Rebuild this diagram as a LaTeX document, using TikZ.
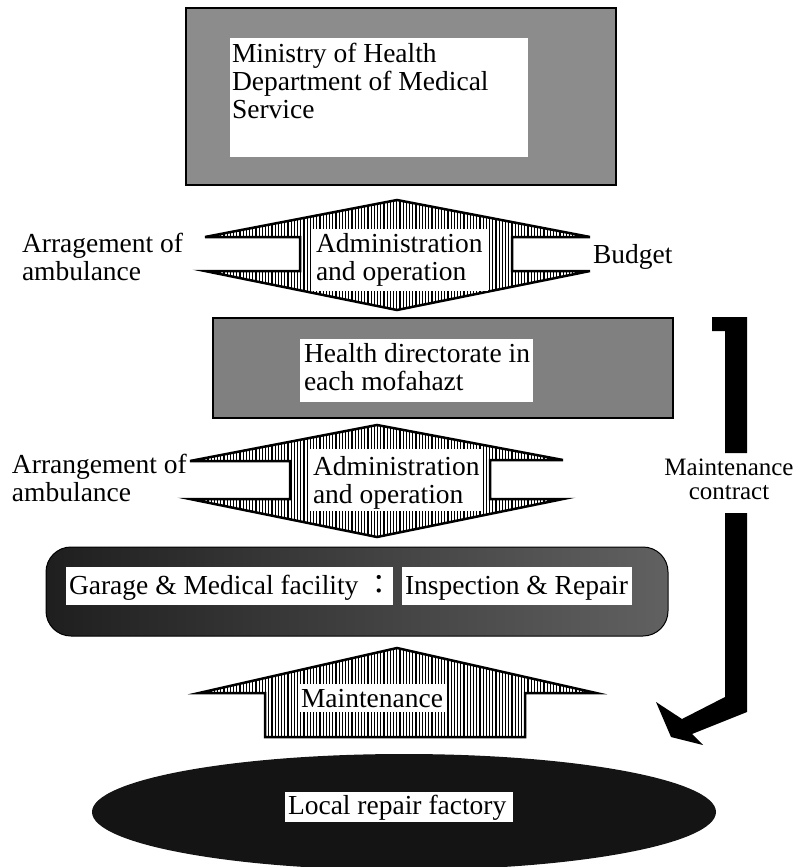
\documentclass[tikz,border=0pt]{standalone}
\usepackage{fontspec}
\setmainfont{Liberation Serif}
\newfontfamily\cjkfont{Noto Sans CJK JP}
\usetikzlibrary{patterns.meta,shapes.geometric}
\begin{document}
\begin{tikzpicture}[x=1pt,y=-1pt,
  txt/.style={font=\fontsize{27.5}{28}\selectfont, inner sep=0pt, outer sep=0pt},
  smalltxt/.style={font=\fontsize{25}{26}\selectfont, inner sep=0pt, outer sep=0pt},
  halftone/.style={fill=black!45, draw=black, line width=1.2pt, inner sep=0pt, outer sep=0pt},
  whitepad/.style={fill=white, draw=none, inner sep=0pt, outer sep=0pt},
  hatchfill/.style={pattern={Lines[angle=90,distance=3.2pt,line width=1.3pt]}, draw=black, line width=2.5pt, line join=miter},
  contract/.style={fill=black, draw=none},
]
\useasboundingbox (0,0) rectangle (797,867);

% ---- top box
\node[halftone, minimum width=430pt, minimum height=177pt] (moh) at (401,96.5) {};
\node[whitepad, minimum width=298pt, minimum height=119pt] (mohin) at (379,97.5) {};
\node[txt, anchor=base west] (moh1) at (232,63) {Ministry of Health};
\node[txt, anchor=base west] (moh2) at (232,90) {Department of Medical};
\node[txt, anchor=base west] (moh3) at (232,118) {Service};

% ---- arrow 1
\path[hatchfill] (397,200) -- (590,237) -- (512,237) -- (512,271) -- (590,271) -- (397,310)
  -- (205,271) -- (300,271) -- (300,237) -- (205,237) -- cycle;
\node[whitepad, minimum width=175pt, minimum height=62pt] (adm1) at (400.5,260) {};
\node[txt, anchor=base west] (adm1a) at (316,252) {Administration};
\node[txt, anchor=base west] (adm1b) at (316,280) {and operation};
\node[txt, anchor=base west] (arr1a) at (22,252) {Arragement of};
\node[txt, anchor=base west] (arr1b) at (22,280) {ambulance};
\node[txt, anchor=base west] (budget) at (593,263) {Budget};

% ---- box 2
\node[halftone, fill=black!50, minimum width=460pt, minimum height=100pt] (hd) at (443,368) {};
\node[whitepad, minimum width=233pt, minimum height=63pt] (hdin) at (416.5,370.5) {};
\node[txt, anchor=base west] (hd1) at (304,362) {Health directorate in};
\node[txt, anchor=base west] (hd2) at (304,390) {each mofahazt};

% ---- arrow 2
\path[hatchfill] (377,425) -- (563,460) -- (490,460) -- (490,499) -- (563,499) -- (377,537)
  -- (190,499) -- (290,499) -- (290,461) -- (190,461) -- cycle;
\node[whitepad, minimum width=174pt, minimum height=62pt] (adm2) at (396,480) {};
\node[txt, anchor=base west] (adm2a) at (313,475) {Administration};
\node[txt, anchor=base west] (adm2b) at (313,503) {and operation};
\node[txt, anchor=base west] (arr2a) at (12,473) {Arrangement of};
\node[txt, anchor=base west] (arr2b) at (12,501) {ambulance};

% ---- box 3
\node[draw=black, line width=1pt, rounded corners=25pt, left color=black!88, right color=black!62,
  minimum width=622pt, minimum height=89pt, inner sep=0pt] (garage) at (357,591.5) {};
\node[whitepad, minimum width=327pt, minimum height=38pt] (gpadA) at (229.5,586) {};
\node[whitepad, minimum width=230pt, minimum height=38pt] (gpadB) at (517,586) {};
\node[txt, anchor=base west] (gA) at (69,594) {Garage \& Medical facility {\cjkfont ：}};
\node[txt, anchor=base west] (gB) at (405,594) {Inspection \& Repair};

% ---- arrow 3
\path[hatchfill] (397,648) -- (596,693) -- (525,693) -- (525,737) -- (265,737) -- (265,693)
  -- (199,693) -- cycle;
\node[whitepad, minimum width=148pt, minimum height=28pt] (mtpad) at (372,698) {};
\node[txt, anchor=base west] (mt) at (301,707) {Maintenance};

% ---- ellipse
\node[ellipse, fill=black!92, draw=none, minimum width=624pt, minimum height=116pt, inner sep=0pt] (factory) at (404,812) {};
\node[whitepad, minimum width=228pt, minimum height=30pt] (fpad) at (399,807) {};
\node[txt, anchor=base west] (ft) at (288,814) {Local repair factory};

% ---- maintenance contract connector
\coordinate (cstart) at (736,317);
\coordinate (ctip) at (671,737);
\fill[contract] (712,317) -- (747,317) -- (747,453) -- (725,453) -- (725,331) -- (712,331) -- cycle;
\fill[contract] (725,513) -- (747,513) -- (747,712) -- (692,734) -- (703,745) -- (ctip)
  -- (656,702) -- (682,719) -- (725,697) -- cycle;
\node[smalltxt, anchor=base] (mc1) at (729,475) {Maintenance};
\node[smalltxt, anchor=base] (mc2) at (729,499) {contract};
\end{tikzpicture}
\end{document}
